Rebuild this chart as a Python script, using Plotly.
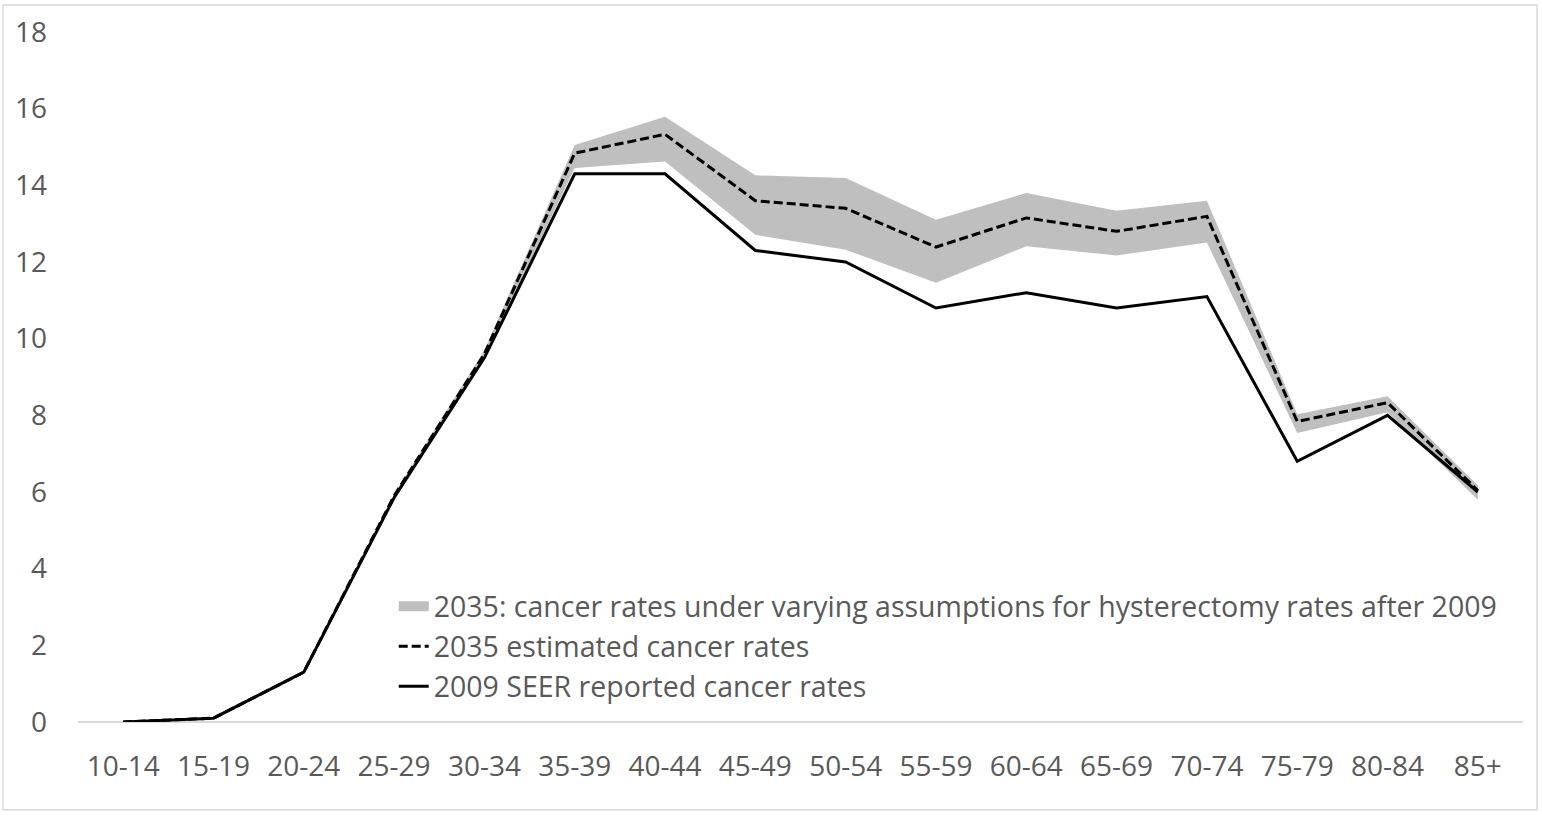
import plotly.graph_objects as go

age_groups = ["10-14", "15-19", "20-24", "25-29", "30-34", "35-39", "40-44", "45-49",
              "50-54", "55-59", "60-64", "65-69", "70-74", "75-79", "80-84", "85+"]

seer_2009 = [0.0, 0.1, 1.3, 5.85, 9.5, 14.3, 14.3, 12.3, 12.0, 10.8, 11.2, 10.8, 11.1, 6.8, 8.0, 6.0]
est_2035 = [0.0, 0.1, 1.3, 5.9, 9.6, 14.84, 15.33, 13.6, 13.4, 12.39, 13.15, 12.8, 13.19, 7.84, 8.33, 6.04]

band_groups = age_groups[3:]
band_upper = [5.95, 9.7, 15.05, 15.79, 14.26, 14.19, 13.1, 13.8, 13.34, 13.6, 8.03, 8.5, 6.17]
band_lower = [5.85, 9.5, 14.45, 14.62, 12.71, 12.32, 11.46, 12.41, 12.17, 12.51, 7.54, 8.08, 5.8]

name_band = "2035: cancer rates under varying assumptions for hysterectomy rates after 2009"
name_est = "2035 estimated cancer rates"
name_seer = "2009 SEER reported cancer rates"

band_color = "#BFBFBF"

fig = go.Figure()
fig.add_trace(go.Scatter(
    x=band_groups + band_groups[::-1],
    y=band_upper + band_lower[::-1],
    fill="toself", fillcolor=band_color, line=dict(width=0, color=band_color),
    mode="lines", name=name_band, showlegend=False, legendgroup="band",
    hoverinfo="skip"))
# legend entry for the band (wide swatch)
fig.add_trace(go.Scatter(
    x=[None], y=[None], mode="lines", name=name_band, legendgroup="band",
    line=dict(width=18, color=band_color)))
fig.add_trace(go.Scatter(
    x=age_groups, y=est_2035, mode="lines", name=name_est,
    line=dict(color="black", width=3, dash="9px,4px")))
fig.add_trace(go.Scatter(
    x=age_groups, y=seer_2009, mode="lines", name=name_seer,
    line=dict(color="black", width=3)))

font_family = "Open Sans, sans-serif"
fig.update_layout(
    width=1542, height=816,
    margin=dict(l=78, r=19, t=30, b=94),
    paper_bgcolor="white", plot_bgcolor="white",
    font=dict(family=font_family, size=28, color="#595959"),
    showlegend=True,
    legend=dict(x=0.2185, y=0.204, xanchor="left", yanchor="top",
                bgcolor="rgba(0,0,0,0)", font=dict(size=28.5, color="#595959"),
                tracegroupgap=0, itemwidth=30),
    xaxis=dict(type="category", categoryorder="array", categoryarray=age_groups,
               showgrid=False, showline=False, zeroline=False,
               ticks="", ticklabelstandoff=25, tickfont=dict(size=28, color="#595959"),
               range=[-0.5, 15.5]),
    yaxis=dict(range=[0, 18], dtick=2, tick0=0, showgrid=False, showline=False,
               zeroline=True, zerolinecolor="#D9D9D9", zerolinewidth=1.5,
               ticks="", ticklabelstandoff=30, tickfont=dict(size=28, color="#595959")),
    shapes=[dict(type="rect", xref="paper", yref="paper",
                 x0=(3 - 78) / 1445, x1=(1537 - 78) / 1445,
                 y0=(722 - 810) / 692, y1=(722 - 3) / 692,
                 line=dict(color="#D9D9D9", width=1.5), fillcolor="rgba(0,0,0,0)",
                 layer="below")],
)

fig.write_html("out.html", config={"displayModeBar": False},
               post_script="document.body.style.margin='0';")
